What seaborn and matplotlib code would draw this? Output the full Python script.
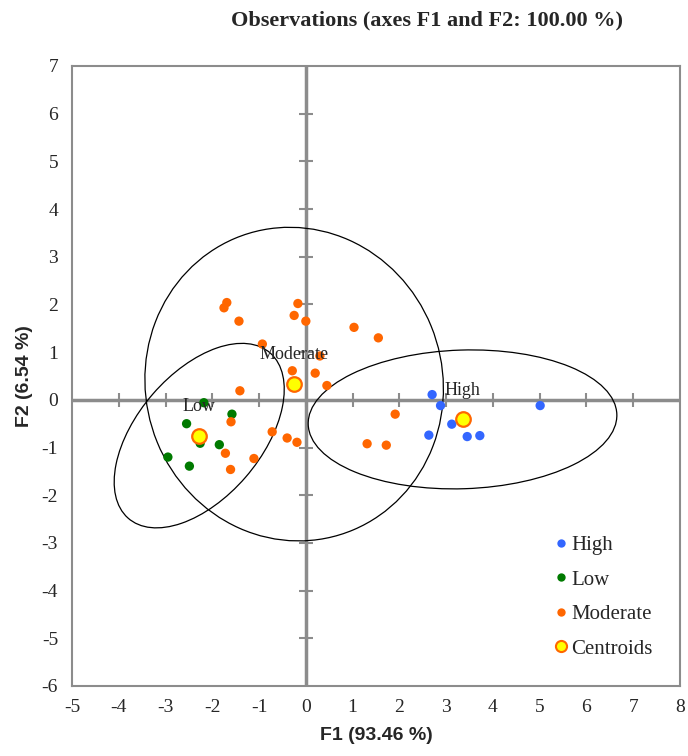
import numpy as np
import pandas as pd
import seaborn as sns
import matplotlib
matplotlib.use('Agg')
import matplotlib.pyplot as plt
from matplotlib.patches import Ellipse
from matplotlib.lines import Line2D

high_f1 = [2.70, 2.88, 3.12, 2.63, 3.45, 3.72, 5.01]
high_f2 = [0.11, -0.12, -0.51, -0.74, -0.77, -0.75, -0.12]
low_f1 = [-2.18, -1.58, -2.55, -2.26, -1.85, -2.95, -2.49]
low_f2 = [-0.06, -0.30, -0.50, -0.91, -0.94, -1.20, -1.39]
mod_f1 = [-1.69, -1.75, -0.17, -0.25, 0.00, -1.43, 1.03, 1.55, -0.93, 0.30, -0.29, 0.20,
          0.45, -1.41, -1.60, -0.72, -0.40, -0.19, -1.72, -1.11, -1.61, 1.91, 1.31, 1.72]
mod_f2 = [2.04, 1.93, 2.02, 1.77, 1.65, 1.65, 1.52, 1.30, 1.17, 0.92, 0.61, 0.56,
          0.30, 0.19, -0.46, -0.67, -0.80, -0.89, -1.12, -1.23, -1.46, -0.30, -0.92, -0.95]

# class centroids
classes = ['High', 'Low', 'Moderate']
cent_f1 = [3.35, -2.28, -0.25]
cent_f2 = [-0.41, -0.75, 0.33]

colors = {'High': '#3366FF', 'Low': '#007A00', 'Moderate': '#FF6600'}

df = pd.DataFrame({
    'F1': high_f1 + low_f1 + mod_f1,
    'F2': high_f2 + low_f2 + mod_f2,
    'Class': ['High'] * len(high_f1) + ['Low'] * len(low_f1) + ['Moderate'] * len(mod_f1),
})
cent = pd.DataFrame({'F1': cent_f1, 'F2': cent_f2, 'Class': classes})

sns.set_style('white')
plt.rcParams['font.family'] = ['Liberation Serif', 'DejaVu Serif']
plt.rcParams['axes.unicode_minus'] = False

fig = plt.figure(figsize=(6.88, 7.56), dpi=100)
ax = fig.add_axes([72 / 688, 70 / 756, 608 / 688, 620 / 756])

gray = '#8C8C8C'
ax.axhline(0, color=gray, lw=2.5, zorder=1)
ax.axvline(0, color=gray, lw=2.5, zorder=1)
xt = np.arange(-4, 8)
yt = np.arange(-5, 7)
ax.plot(xt, np.zeros(len(xt)), ls='none', marker='|', ms=10, mew=1.5, color=gray, zorder=1)
ax.plot(np.zeros(len(yt)), yt, ls='none', marker='_', ms=10, mew=1.5, color=gray, zorder=1)

# prediction ellipses (95 %) around each class
for cls, cx, cy in zip(classes, cent_f1, cent_f2):
    sub = df[df['Class'] == cls]
    n = len(sub)
    m = n - 2
    fq = m / 2 * (0.05 ** (-2 / m) - 1)
    k2 = 2 * (n - 1) * (n + 1) / (n * m) * fq
    vals, vecs = np.linalg.eigh(np.cov(sub['F1'], sub['F2']) * k2)
    angle = np.degrees(np.arctan2(vecs[1, 1], vecs[0, 1]))
    ax.add_patch(Ellipse((cx, cy), 2 * np.sqrt(vals[1]), 2 * np.sqrt(vals[0]), angle=angle,
                         fill=False, ec='black', lw=0.9, zorder=2))

sns.scatterplot(data=df, x='F1', y='F2', hue='Class', palette=colors, s=45,
                linewidth=0, legend=False, ax=ax, zorder=3)

for cls, cx, cy in zip(classes, cent_f1, cent_f2):
    ax.annotate(cls, (cx, cy), xytext=(0, 21), textcoords='offset points',
                ha='center', va='center', fontsize=13, zorder=4)

sns.scatterplot(data=cent, x='F1', y='F2', color='#FFFF00', edgecolor='#FF6600',
                linewidth=1.6, s=110, legend=False, ax=ax, zorder=5)

ax.set_xlim(-5, 8)
ax.set_ylim(-6, 7)
ax.set_xticks(np.arange(-5, 9))
ax.set_yticks(np.arange(-6, 8))
ax.tick_params(length=0, labelsize=14)
ax.tick_params(axis='x', pad=9)
ax.tick_params(axis='y', pad=10)
for sp in ax.spines.values():
    sp.set_color(gray)
    sp.set_linewidth(1.5)

ax.set_xlabel('F1 (93.46 %)', family='Liberation Sans', fontweight='bold', fontsize=14, labelpad=8)
ax.set_ylabel('F2 (6.54 %)', family='Liberation Sans', fontweight='bold', fontsize=14, labelpad=6)
fig.text(427 / 688, 1 - 20 / 756, 'Observations (axes F1 and F2: 100.00 %)',
         ha='center', va='center', fontsize=16, fontweight='bold')

handles = [Line2D([], [], ls='none', marker='o', ms=6, mew=0, color=colors[c]) for c in classes]
handles.append(Line2D([], [], ls='none', marker='o', ms=8, mfc='#FFFF00', mec='#FF6600', mew=1.5))
ax.legend(handles, classes + ['Centroids'], loc='upper left', bbox_to_anchor=(0.794, 0.243),
          frameon=False, fontsize=15, handlelength=0.6, handletextpad=0.2,
          labelspacing=0.72, borderpad=0, borderaxespad=0)

fig.savefig('out.png', dpi=100)
